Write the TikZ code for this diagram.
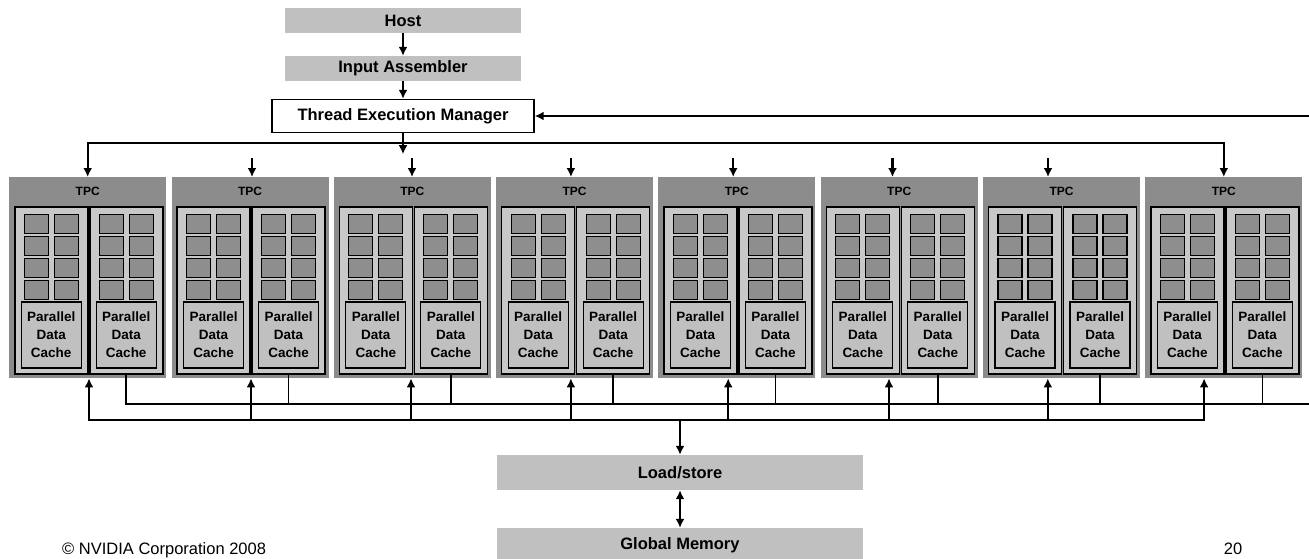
\documentclass[tikz,border=0pt]{standalone}
\usepackage{fontspec}
\setmainfont{Liberation Sans}
\usetikzlibrary{arrows.meta,calc,positioning}
\definecolor{boxgray}{HTML}{C0C0C0}
\definecolor{tpcgray}{HTML}{8C8C8C}
\definecolor{smgray}{HTML}{C8C8C8}
\definecolor{coregray}{HTML}{8E8E8E}

\begin{document}
\begin{tikzpicture}[x=1pt,y=-1pt,
  stage/.style={fill=boxgray,minimum width=236pt,minimum height=25pt,inner sep=0pt,font=\fontsize{16.5}{18}\selectfont\bfseries},
  tpcbox/.style={fill=tpcgray,minimum width=157pt,minimum height=201pt,inner sep=0pt},
  smbox/.style={draw=black,line width=1.5pt,fill=smgray,minimum width=73pt,minimum height=167pt,inner sep=0pt},
  core/.style={draw=black,line width=1.2pt,fill=coregray,minimum width=24pt,minimum height=19pt,inner sep=0pt},
  pdc/.style={draw=black,line width=1.2pt,fill=boxgray,minimum width=60pt,minimum height=66pt,inner sep=0pt,align=center,font=\fontsize{13.5}{18}\selectfont\bfseries},
  link/.style={line width=2.2pt,-{Latex[length=9pt,width=9pt]}},
  twoway/.style={line width=2.2pt,{Latex[length=9pt,width=9pt]}-{Latex[length=9pt,width=9pt]}},
  wire/.style={line width=1.6pt}]
  \useasboundingbox (0,0) rectangle (1309,559);
  \clip (0,0) rectangle (1309,559);

  % front end
  \node[stage] (host) at (403,20.5) {Host};
  \node[stage] (assembler) at (403,68.5) {Input Assembler};
  \node[draw,line width=1.4pt,fill=white,minimum width=262pt,minimum height=33pt,inner sep=0pt,font=\fontsize{16.5}{18}\selectfont\bfseries] (tem) at (403,116) {Thread Execution Manager};
  \draw[link] (host) -- (assembler);
  \draw[link] (assembler) -- (tem);

  % the eight TPCs
  \foreach \i in {1,...,8}{
    \pgfmathsetmacro\tpcx{9+162.3*(\i-1)}
    \node[tpcbox,anchor=north west] (tpc\i) at (\tpcx,177) {};
    \node[font=\fontsize{12}{12}\selectfont\bfseries,inner sep=0pt] (tpclab\i) at ($(tpc\i.north)+(0,14)$) {TPC};
    \node[smbox,anchor=north west] (sml\i) at (\tpcx+5,206) {};
    \node[smbox,anchor=north west] (smr\i) at (\tpcx+80,206) {};
    \foreach \s in {sml\i,smr\i}{
      \foreach \r in {1,...,4}{
        \node[core] (\s-a\r) at ($(\s.north)+(-15,-4+22*\r)$) {};
        \node[core] (\s-b\r) at ($(\s.north)+(15,-4+22*\r)$) {};
      }
      \node[pdc] (\s-pdc) at ($(\s.north)+(0,129)$) {Parallel\\Data\\Cache};
    }
  }

  % dispatch from the manager
  \coordinate (fork) at (403,143);
  \coordinate (rim) at (1309,116);
  \draw[link] (rim) -- (tem.east);
  \draw[link] (tem.south) -- ($(tem.south)+(0,21)$);
  \draw[twoway] (tpc1.north) -- (tpc1.north |- fork) -- (tpc8.north |- fork) -- (tpc8.north);
  \foreach \i/\dx in {2/80.7,3/78.4,4/75,5/75,6/72,7/65.2}
    \draw[link] ($(tpc\i.north west)+(\dx,-19)$) -- ($(tpc\i.north west)+(\dx,0)$);

  % buses to memory
  \coordinate (highbus) at (0,404);
  \coordinate (lowbus) at (0,420);
  \foreach \i/\bx in {1/80,2/79.7,3/77.4,4/75,5/70,6/68.5,7/65,8/59}
    \coordinate (up\i) at ($(tpc\i.south west)+(\bx,0)$);
  \draw[wire] (smr1.south) -- (smr1.south |- highbus) -- (rim |- highbus);
  \foreach \i in {2,...,8}
    \draw[wire] (smr\i.south) -- (smr\i.south |- highbus);
  \draw[twoway] (up1) -- (up1 |- lowbus) -- (up8 |- lowbus) -- (up8);
  \foreach \i in {2,...,7}
    \draw[link] (up\i |- lowbus) -- (up\i);

  \node[stage,minimum width=366pt,minimum height=35pt] (ls) at (680,472.5) {Load/store};
  \node[stage,minimum width=366pt,minimum height=35pt] (gmem) at (680,545.5) {Global Memory};
  \draw[link] (ls.north |- lowbus) -- (ls.north);
  \draw[twoway] (ls) -- (gmem);

  \node[anchor=base west,inner sep=0pt,font=\fontsize{16.5}{18}\selectfont] (copy) at (62,554) {© NVIDIA Corporation 2008};
  \node[anchor=base,inner sep=0pt,font=\fontsize{16.5}{18}\selectfont] (page) at (1233,554) {20};
\end{tikzpicture}
\end{document}
